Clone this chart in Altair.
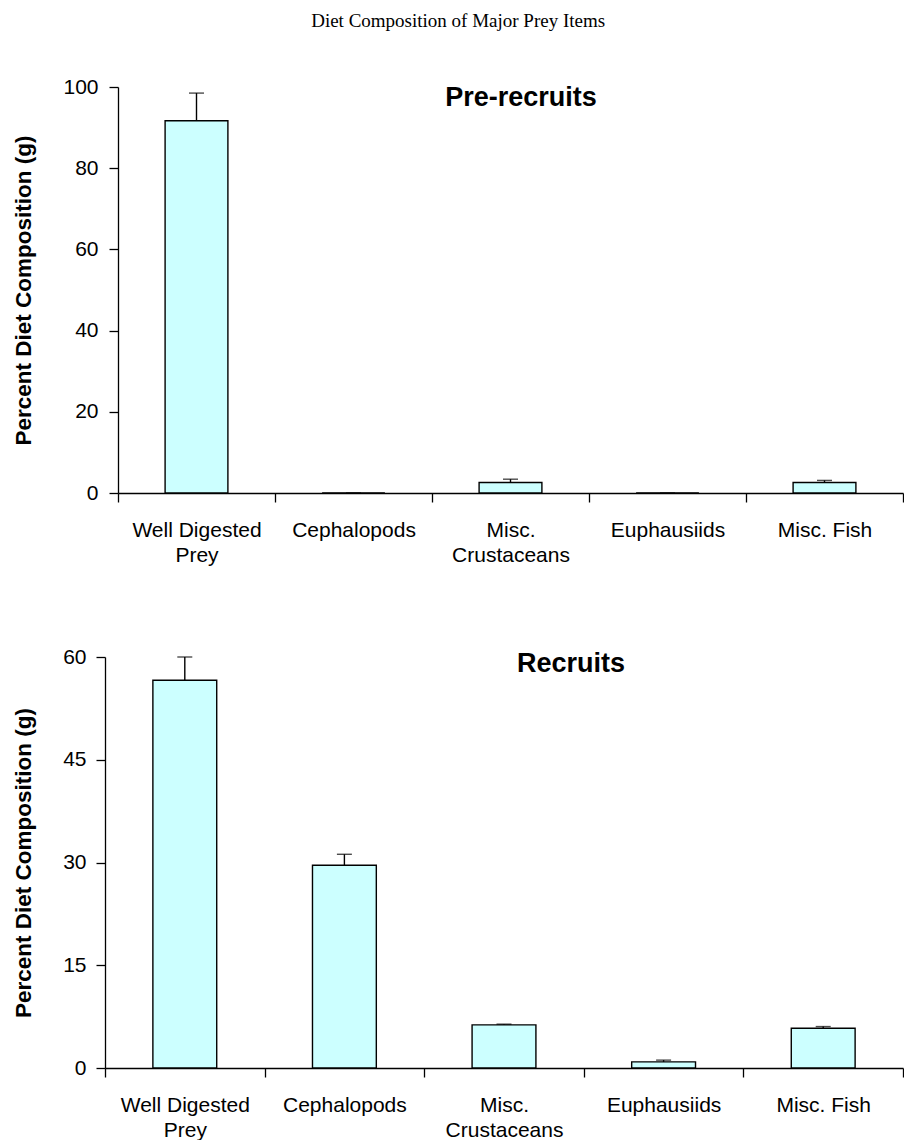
import altair as alt
import pandas as pd

categories = ["Well Digested Prey", "Cephalopods", "Misc. Crustaceans", "Euphausiids", "Misc. Fish"]
pre_mean = [91.7, 0.0, 2.6, 0.0, 2.6]
pre_err = [6.8, 0.0, 0.8, 0.0, 0.5]
rec_mean = [56.6, 29.6, 6.3, 0.9, 5.8]
rec_err = [3.4, 1.6, 0.1, 0.25, 0.25]
pre_ticks = [0, 20, 40, 60, 80, 100]
rec_ticks = [0, 15, 30, 45, 60]

label_expr = (
    "datum.label == 'Well Digested Prey' ? ['Well Digested', 'Prey'] : "
    "datum.label == 'Misc. Crustaceans' ? ['Misc.', 'Crustaceans'] : datum.label"
)

SANS = "Liberation Sans, Arial, sans-serif"
W = 798


def make_df(means, errs):
    return pd.DataFrame({
        "cat": categories,
        "mean": means,
        "top": [m + e for m, e in zip(means, errs)],
    })


def panel(df, ymax, ticks, title, height, tx, ty, label_pad, shift):
    xscale = alt.Scale(paddingInner=0, paddingOuter=0, range=[shift, W])
    xenc = alt.X(
        "cat:N", sort=categories, scale=xscale,
        axis=alt.Axis(
            title=None, labelAngle=0, tickBand="extent", labelExpr=label_expr,
            labelFont=SANS, labelFontSize=21, labelColor="black",
            labelLineHeight=25, labelPadding=17, tickSize=9,
            tickColor="black", domainColor="black", tickWidth=1.3, domainWidth=1.3,
            grid=False, labelBaseline="top",
        ),
    )
    yenc = alt.Y(
        "mean:Q",
        scale=alt.Scale(domain=[0, ymax], nice=False),
        axis=alt.Axis(
            values=ticks, title="Percent Diet Composition (g)",
            titleFont=SANS, titleFontSize=22.5, titleFontWeight="bold",
            titleColor="black", titlePadding=27,
            labelFont=SANS, labelFontSize=21, labelColor="black",
            labelPadding=label_pad, tickSize=9, tickColor="black",
            domainColor="black", tickWidth=1.3, domainWidth=1.3, grid=False,
            offset=-shift,
        ),
    )
    bars = alt.Chart(df).mark_bar(
        width=alt.RelativeBandSize(0.4), fill="#CCFFFF", stroke="black",
        strokeWidth=1.4,
    ).encode(x=xenc, y=yenc)
    err = alt.Chart(df).mark_rule(color="black", strokeWidth=1.4).encode(
        x=alt.X("cat:N", sort=categories, scale=xscale), y="mean:Q", y2="top:Q"
    )
    cap = alt.Chart(df).mark_tick(color="black", thickness=1.4, size=15).encode(
        x=alt.X("cat:N", sort=categories, scale=xscale), y="top:Q"
    )
    txt = alt.Chart(pd.DataFrame({"t": [title]})).mark_text(
        font=SANS, fontSize=27, fontWeight="bold", color="black",
        align="center", baseline="middle",
    ).encode(x=alt.value(tx), y=alt.value(ty), text="t:N")
    return alt.layer(bars, err, cap, txt).properties(width=W, height=height)


top = panel(make_df(pre_mean, pre_err), 100, pre_ticks, "Pre-recruits",
            406, 416, 11, 11, 13)
bottom = panel(make_df(rec_mean, rec_err), 60, rec_ticks, "Recruits",
               411, 466, 7, 10, 0)

chart = alt.vconcat(top, bottom, spacing=81).properties(
    title=alt.TitleParams(
        "Diet Composition of Major Prey Items",
        font="Liberation Serif, Times New Roman, serif", fontSize=19,
        fontWeight="normal", color="black", anchor="middle", offset=45,
    ),
    padding={"left": 4, "top": 4, "right": 0, "bottom": 0},
).configure_view(stroke=None)

chart.save("out.html", embed_options={"renderer": "svg", "actions": False})
